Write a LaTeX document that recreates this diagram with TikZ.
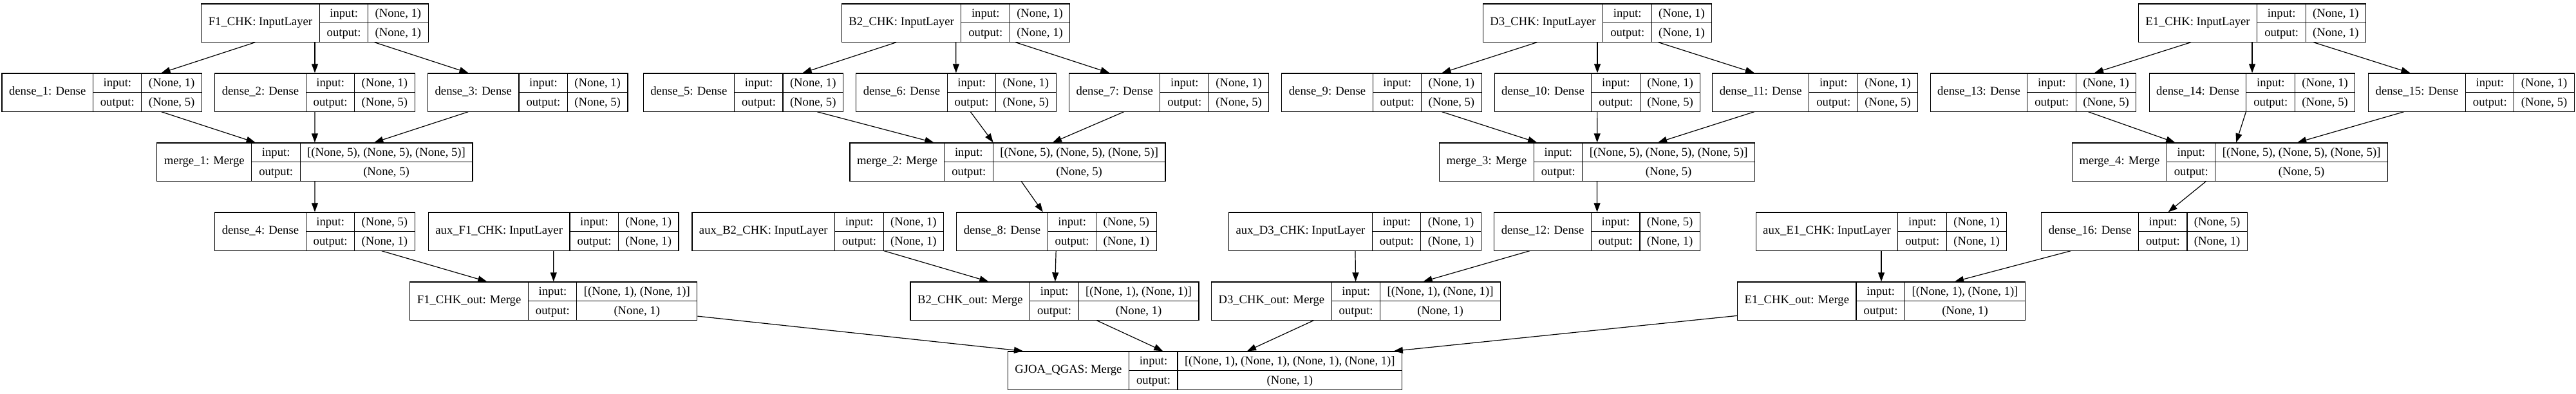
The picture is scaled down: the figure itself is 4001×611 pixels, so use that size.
\documentclass[tikz,border=0pt]{standalone}
\usepackage{fontspec}
\setmainfont{Liberation Serif}
\usetikzlibrary{arrows.meta}
\setlength{\tabcolsep}{11pt}
\setlength{\arrayrulewidth}{1.2pt}
\newcommand{\layerbox}[3]{\begin{tabular}{c|@{}c@{}}#1 & \begin{tabular}{c|c}input: & #2\\ \hline output: & #3\end{tabular}\end{tabular}}
\begin{document}
\begin{tikzpicture}[x=1pt, y=-1pt, line width=1.2pt, >={Triangle[length=14pt,width=10pt]},
        main/.style = {draw, inner sep=0pt, font={\fontsize{18.67}{29}\selectfont}}]
            \useasboundingbox (0,0) rectangle (4001,611);

            % inputs
            \node[main] (1) at (489,35.5)     {\layerbox{F1\_CHK: InputLayer}{(None, 1)}{(None, 1)}};
            \node[main] (2) at (1484.6,35.5)  {\layerbox{B2\_CHK: InputLayer}{(None, 1)}{(None, 1)}};
            \node[main] (3) at (2481,35.5)    {\layerbox{D3\_CHK: InputLayer}{(None, 1)}{(None, 1)}};
            \node[main] (4) at (3498,35.5)    {\layerbox{E1\_CHK: InputLayer}{(None, 1)}{(None, 1)}};

            % dense layers
            \node[main] (5) at (158.2,143.5)  {\layerbox{dense\_1: Dense}{(None, 1)}{(None, 5)}};
            \node[main] (6) at (489,143.5)    {\layerbox{dense\_2: Dense}{(None, 1)}{(None, 5)}};
            \node[main] (7) at (819.8,143.5)  {\layerbox{dense\_3: Dense}{(None, 1)}{(None, 5)}};
            \node[main] (8) at (1154.4,143.5) {\layerbox{dense\_5: Dense}{(None, 1)}{(None, 5)}};
            \node[main] (9) at (1485,143.5)   {\layerbox{dense\_6: Dense}{(None, 1)}{(None, 5)}};
            \node[main] (10) at (1815.7,143.5) {\layerbox{dense\_7: Dense}{(None, 1)}{(None, 5)}};
            \node[main] (11) at (2146,143.5)  {\layerbox{dense\_9: Dense}{(None, 1)}{(None, 5)}};
            \node[main] (12) at (2481,143.5)  {\layerbox{dense\_10: Dense}{(None, 1)}{(None, 5)}};
            \node[main] (13) at (2819.3,143.5) {\layerbox{dense\_11: Dense}{(None, 1)}{(None, 5)}};
            \node[main] (14) at (3158,143.5)  {\layerbox{dense\_13: Dense}{(None, 1)}{(None, 5)}};
            \node[main] (15) at (3498,143.5)  {\layerbox{dense\_14: Dense}{(None, 1)}{(None, 5)}};
            \node[main] (16) at (3838.5,143.5) {\layerbox{dense\_15: Dense}{(None, 1)}{(None, 5)}};

            % merges
            \node[main] (17) at (488.9,251.5)  {\layerbox{merge\_1: Merge}{[(None, 5), (None, 5), (None, 5)]}{(None, 5)}};
            \node[main] (18) at (1565,251.5)   {\layerbox{merge\_2: Merge}{[(None, 5), (None, 5), (None, 5)]}{(None, 5)}};
            \node[main] (19) at (2480.5,251.5) {\layerbox{merge\_3: Merge}{[(None, 5), (None, 5), (None, 5)]}{(None, 5)}};
            \node[main] (20) at (3463.5,251.5) {\layerbox{merge\_4: Merge}{[(None, 5), (None, 5), (None, 5)]}{(None, 5)}};

            \node[main] (21) at (489,359.5)    {\layerbox{dense\_4: Dense}{(None, 5)}{(None, 1)}};
            \node[main] (22) at (859.7,359.5)  {\layerbox{aux\_F1\_CHK: InputLayer}{(None, 1)}{(None, 1)}};
            \node[main] (23) at (1270.3,359.5) {\layerbox{aux\_B2\_CHK: InputLayer}{(None, 1)}{(None, 1)}};
            \node[main] (24) at (1641,359.5)   {\layerbox{dense\_8: Dense}{(None, 5)}{(None, 1)}};
            \node[main] (25) at (2104.5,359.5) {\layerbox{aux\_D3\_CHK: InputLayer}{(None, 1)}{(None, 1)}};
            \node[main] (26) at (2480.6,359.5) {\layerbox{dense\_12: Dense}{(None, 5)}{(None, 1)}};
            \node[main] (27) at (2922,359.5)   {\layerbox{aux\_E1\_CHK: InputLayer}{(None, 1)}{(None, 1)}};
            \node[main] (28) at (3330.6,359.5) {\layerbox{dense\_16: Dense}{(None, 5)}{(None, 1)}};

            % outputs
            \node[main] (29) at (859.8,467.5)  {\layerbox{F1\_CHK\_out: Merge}{[(None, 1), (None, 1)]}{(None, 1)}};
            \node[main] (30) at (1638,467.5)   {\layerbox{B2\_CHK\_out: Merge}{[(None, 1), (None, 1)]}{(None, 1)}};
            \node[main] (31) at (2106,467.5)   {\layerbox{D3\_CHK\_out: Merge}{[(None, 1), (None, 1)]}{(None, 1)}};
            \node[main] (32) at (2922,467.5)   {\layerbox{E1\_CHK\_out: Merge}{[(None, 1), (None, 1)]}{(None, 1)}};
            \node[main] (33) at (1871.5,575.5) {\layerbox{GJOA\_QGAS: Merge}{[(None, 1), (None, 1), (None, 1), (None, 1)]}{(None, 1)}};

            \draw[->] (1) to (5);
            \draw[->] (1) to (6);
            \draw[->] (1) to (7);
            \draw[->] (5) to (17);
            \draw[->] (6) to (17);
            \draw[->] (7) to (17);
            \draw[->] (17) to (21);
            \draw[->] (21) to (29);
            \draw[->] (22) to (29);

            \draw[->] (2) to (8);
            \draw[->] (2) to (9);
            \draw[->] (2) to (10);
            \draw[->] (8) to (18);
            \draw[->] (9) to (18);
            \draw[->] (10) to (18);
            \draw[->] (18) to (24);
            \draw[->] (24) to (30);
            \draw[->] (23) to (30);

            \draw[->] (3) to (11);
            \draw[->] (3) to (12);
            \draw[->] (3) to (13);
            \draw[->] (11) to (19);
            \draw[->] (12) to (19);
            \draw[->] (13) to (19);
            \draw[->] (19) to (26);
            \draw[->] (26) to (31);
            \draw[->] (25) to (31);

            \draw[->] (4) to (14);
            \draw[->] (4) to (15);
            \draw[->] (4) to (16);
            \draw[->] (14) to (20);
            \draw[->] (15) to (20);
            \draw[->] (16) to (20);
            \draw[->] (20) to (28);
            \draw[->] (28) to (32);
            \draw[->] (27) to (32);

            \draw[->] (29) to (33);
            \draw[->] (30) to (33);
            \draw[->] (31) to (33);
            \draw[->] (32) to (33);
        \end{tikzpicture}
\end{document}
